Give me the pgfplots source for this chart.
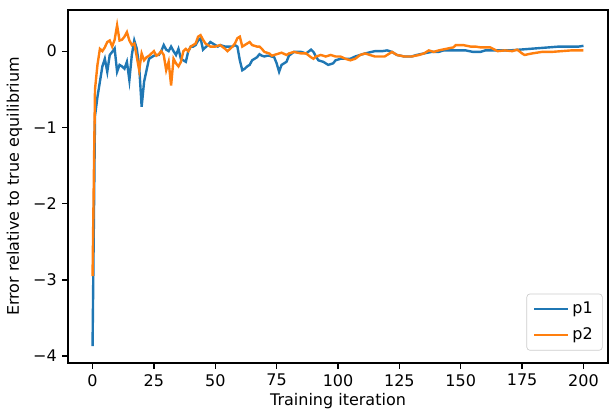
\documentclass[border=0pt]{standalone}
\usepackage{fontspec}
\setmainfont{DejaVu Sans}
\usepackage{pgfplots}
\pgfplotsset{compat=1.18}
\definecolor{mplblue}{HTML}{1F77B4}
\definecolor{mplorange}{HTML}{FF7F0E}
\begin{document}
\begin{tikzpicture}
\begin{axis}[
  scale only axis,
  width=337.5pt, height=220.6pt,
  xmin=-10, xmax=210, ymin=-4.09, ymax=0.54,
  xtick={0,25,50,75,100,125,150,175,200},
  ytick={-4,-3,-2,-1,0},
  yticklabels={−4,−3,−2,−1,0},
  tick pos=left,
  tick align=outside,
  major tick length=3.5pt,
  tick style={black, line width=0.8pt},
  axis line style={line width=0.8pt},
  /pgf/number format/assume math mode=true,
  ticklabel style={font=\fontsize{10}{12}\selectfont},
  label style={font=\fontsize{10}{12}\selectfont},
  xlabel={Training iteration},
  xlabel style={yshift=2.5pt},
  ylabel={Error relative to true equilibrium},
  legend style={at={(0.99,0.035)}, anchor=south east, draw=black!20, rounded corners=2pt, font=\fontsize{10}{12}\selectfont, inner xsep=4pt, inner ysep=3pt, row sep=3.5pt},
  legend cell align=left,
  legend image code/.code={\draw[#1, line width=1.5pt] (0pt,0pt) -- (21pt,0pt);},
]
\coordinate (bl) at (rel axis cs:0,0);
\coordinate (tr) at (rel axis cs:1,1);
\addplot[mplblue, line width=1.5pt] coordinates {
(0,-3.87)(1,-0.85)(2,-0.6)(3,-0.40)(4,-0.2)(5,-0.10)(6,-0.27)(7,-0.05)(8,-0.01)(9,0.035)
(10,-0.27)(11,-0.18)(12,-0.2)(13,-0.23)(14,-0.14)(15,-0.38)(16,-0.05)(17,0.14)(18,0.035)(19,-0.2)
(20,-0.73)(21,-0.40)(22,-0.25)(23,-0.10)(24,-0.08)(25,-0.06)(26,-0.05)(27,-0.05)(28,0.0)(29,0.08)
(30,0.02)(31,0.0)(32,0.06)(33,0.0)(34,-0.05)(35,0.03)(36,-0.10)(37,-0.12)(38,-0.14)(39,0.0)
(40,0.06)(41,0.06)(42,0.08)(43,0.14)(44,0.17)(45,0.02)(46,0.05)(47,0.08)(48,0.12)(49,0.10)
(50,0.08)(51,0.06)(52,0.08)(53,0.07)(54,0.06)(55,0.06)(56,0.06)(57,0.06)(58,0.08)(59,0.06)
(60,-0.12)(61,-0.25)(62,-0.23)(63,-0.20)(64,-0.18)(65,-0.12)(66,-0.10)(67,-0.08)(68,-0.04)(69,-0.06)
(70,-0.07)(71,-0.06)(72,-0.06)(73,-0.07)(74,-0.08)(75,-0.16)(76,-0.27)(77,-0.18)(78,-0.16)(79,-0.14)
(80,-0.06)(82,-0.01)(85,-0.01)(87,-0.03)(89,0.02)(90,-0.01)(91,-0.07)(92,-0.12)(94,-0.14)(96,-0.18)
(98,-0.16)(99,-0.12)(101,-0.10)(105,-0.10)(107,-0.07)(109,-0.05)(111,-0.03)(115,0.0)(118,0.0)(120,0.01)
(122,-0.01)(124,-0.05)(127,-0.07)(130,-0.07)(132,-0.05)(135,-0.03)(138,-0.01)(141,-0.01)(143,0.01)(152,0.01)
(155,-0.01)(158,-0.01)(160,0.01)(170,0.01)(174,0.02)(178,0.03)(182,0.04)(186,0.05)(190,0.06)(194,0.06)
(198,0.06)(200,0.07)
};
\addlegendentry{p1}
\addplot[mplorange, line width=1.5pt] coordinates {
(0,-2.95)(1,-0.5)(2,-0.18)(3,0.03)(4,0.0)(5,0.05)(6,0.12)(7,0.14)(8,0.06)(9,0.15)
(10,0.34)(11,0.14)(12,0.15)(13,0.19)(14,0.25)(15,0.14)(16,0.08)(17,0.10)(18,-0.07)(19,-0.25)
(20,-0.03)(21,-0.12)(22,-0.08)(23,-0.06)(24,-0.03)(25,0.0)(26,-0.06)(27,-0.04)(28,0.0)(29,-0.05)
(30,-0.25)(31,-0.14)(32,-0.45)(33,-0.10)(34,-0.16)(35,-0.20)(36,-0.14)(37,0.0)(38,0.03)(39,0.0)
(40,0.06)(41,0.08)(42,0.1)(43,0.19)(44,0.21)(45,0.15)(46,0.10)(47,0.08)(48,0.06)(50,0.06)
(52,0.08)(54,0.03)(55,0.0)(57,0.06)(58,0.10)(59,0.17)(60,0.19)(61,0.06)(62,0.08)(63,0.10)
(64,0.12)(65,0.08)(67,0.06)(68,0.06)(69,0.03)(70,-0.01)(72,-0.03)(73,-0.06)(75,-0.04)(77,-0.02)
(79,-0.05)(80,-0.03)(82,-0.01)(85,-0.03)(87,-0.03)(89,-0.08)(90,-0.10)(91,-0.07)(93,-0.05)(95,-0.07)
(97,-0.05)(99,-0.07)(101,-0.07)(103,-0.10)(105,-0.12)(107,-0.10)(109,-0.05)(111,-0.03)(113,-0.05)(115,-0.07)
(118,-0.07)(119,-0.07)(121,-0.03)(122,-0.01)(124,-0.05)(127,-0.07)(130,-0.07)(133,-0.05)(135,-0.03)(137,0.01)
(139,-0.01)(141,0.01)(144,0.03)(147,0.05)(148,0.08)(151,0.08)(154,0.06)(156,0.06)(158,0.05)(162,0.05)
(165,0.0)(168,0.01)(171,0.0)(173,0.02)(175,-0.03)(176,-0.05)(179,-0.03)(183,-0.01)(187,-0.01)(191,0.0)
(195,0.01)(200,0.01)
};
\addlegendentry{p2}
\end{axis}
\pgfresetboundingbox
\path ([xshift=-42.5pt,yshift=-29.4pt]bl) rectangle ([xshift=0.6pt,yshift=6.25pt]tr);
\end{tikzpicture}
\end{document}
